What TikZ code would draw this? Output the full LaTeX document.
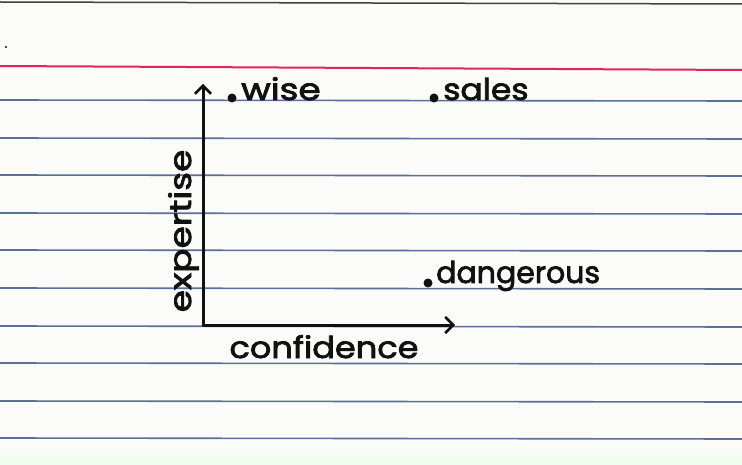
\documentclass[tikz,border=0pt]{standalone}
\usepackage{fontspec}
\setmainfont{Poppins}
\newfontfamily\handfont[FakeBold=2.4]{Poppins}
\usetikzlibrary{arrows.meta}
\definecolor{paper}{HTML}{FBFBFA}
\definecolor{rule}{HTML}{5C6F96}
\definecolor{margin}{HTML}{E2245A}
\definecolor{ink}{HTML}{111111}
\tikzset{
  ruled/.style={rule, line width=1.6pt},
  axis/.style={ink, line width=3pt, line cap=round, line join=round, -{Straight Barb[length=8pt,width=16pt,line width=2.5pt]}},
  word/.style={ink, font=\handfont\fontsize{30}{30}\selectfont, inner sep=0pt, anchor=base west},
  datadot/.style={circle, fill=ink, inner sep=0pt, minimum size=9pt},
}
\begin{document}
\begin{tikzpicture}[x=1pt,y=-1pt]
\useasboundingbox (0,0) rectangle (742,465);
\fill[paper] (0,0) rectangle (742,465);
\fill[black!15!green!6!white] (0,455) rectangle (742,465);
\draw[ink!80, line width=1.5pt] (0,2) -- (742,4);
\fill[ink] (6,47) circle (1.2pt);
% ruled lines
\draw[margin, line width=2pt] (0,66) -- (742,70);
\foreach \y in {100,138,175,213,250,288,326,363,401,438}
  \draw[ruled] (0,\y) -- (742,\y+1);
% axes
\coordinate (origin) at (203,325);
\coordinate (ytip) at (203,84);
\coordinate (xtip) at (455,325);
\draw[axis] (origin) -- (ytip);
\draw[axis] (origin) -- (xtip);
% data points
\node[datadot] (dwise) at (232,98) {};
\node[word, xscale=1.2] (wise) at (241,100) {wise};
\node[datadot] (dsales) at (434,98) {};
\node[word, xscale=1.1] (sales) at (443,100) {sales};
\node[datadot] (ddanger) at (428,283) {};
\node[word] (danger) at (436,283) {dangerous};
% axis labels
\node[word, anchor=base, xscale=1.12] (conf) at (324,358) {confidence};
\node[word, anchor=base, rotate=90, xscale=1.2] (exp) at (191,231) {expertise};
\end{tikzpicture}
\end{document}
